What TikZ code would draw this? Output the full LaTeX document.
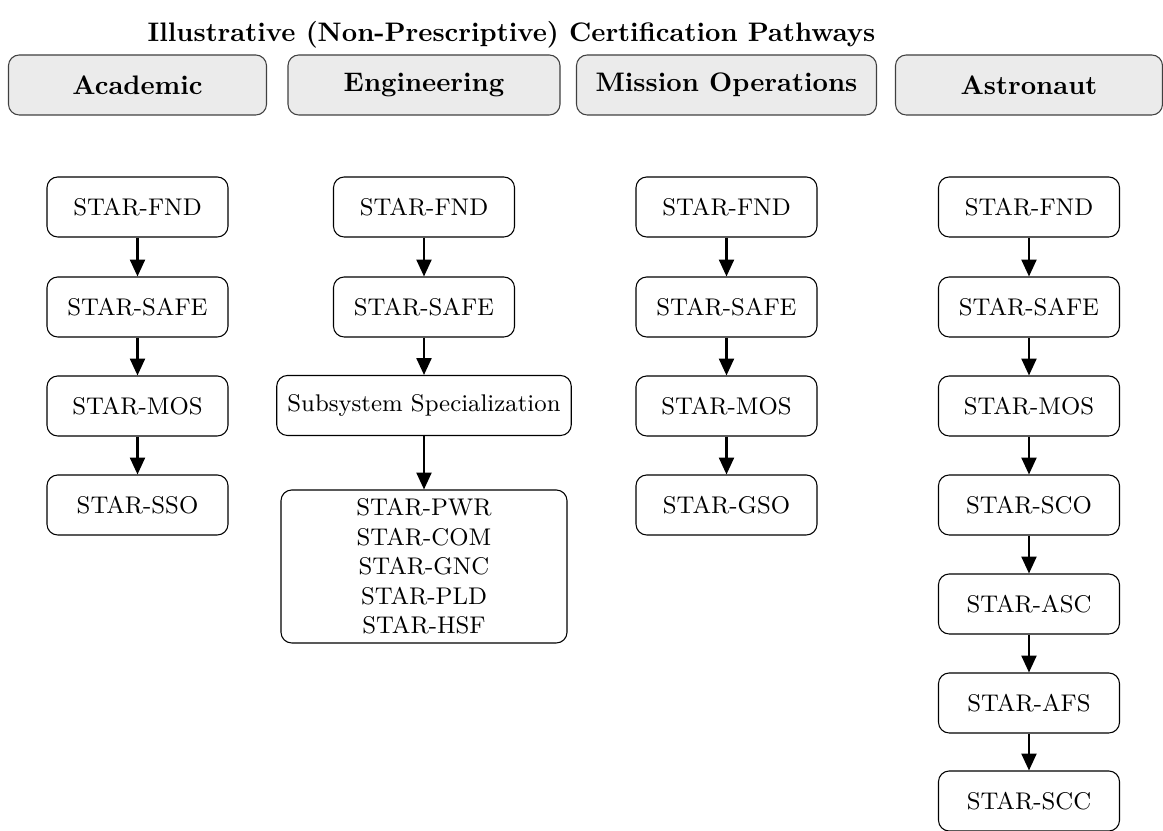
\documentclass[tikz,border=0pt]{standalone}
\usetikzlibrary{arrows.meta}
\begin{document}
\begin{tikzpicture}[x=0.3731pt, y=-0.3731pt,
  pbox/.style={draw, rounded corners=4pt, minimum width={181*0.3731pt}, minimum height={60*0.3731pt}, font=\small, inner xsep=4pt, inner ysep=3pt, align=center},
  hbox/.style={draw=black!75, fill=black!8, rounded corners=4pt, minimum height={60*0.3731pt}, font=\bfseries, inner sep=3pt},
  arr/.style={-{Triangle[length=6.3pt,width=5.6pt]}, thick}]
\useasboundingbox (0,0) rectangle (1163,831);
% title
\node[font=\bfseries] (title) at (511.5,35) {Illustrative (Non-Prescriptive) Certification Pathways};
% headers
\node[hbox, minimum width={258*0.3731pt}] (hA) at (137.5,85) {Academic};
\node[hbox, minimum width={272*0.3731pt}] (hE) at (424,85) {Engineering};
\node[hbox, minimum width={300*0.3731pt}] (hM) at (726.5,85) {Mission Operations};
\node[hbox, minimum width={267*0.3731pt}] (hS) at (1029,85) {Astronaut};
% Academic
\node[pbox] (a1) at (137.5,207) {STAR-FND};
\node[pbox] (a2) at (137.5,307) {STAR-SAFE};
\node[pbox] (a3) at (137.5,406) {STAR-MOS};
\node[pbox] (a4) at (137.5,505) {STAR-SSO};
% Engineering
\node[pbox] (e1) at (424,207) {STAR-FND};
\node[pbox] (e2) at (424,307) {STAR-SAFE};
\node[pbox] (e3) at (424,405.5) {Subsystem Specialization};
\node[pbox, minimum width={286*0.3731pt}, minimum height={153*0.3731pt}] (e4) at (424,566.5) {STAR-PWR\\STAR-COM\\STAR-GNC\\STAR-PLD\\STAR-HSF};
% Mission Operations
\node[pbox] (m1) at (726.5,207) {STAR-FND};
\node[pbox] (m2) at (726.5,307) {STAR-SAFE};
\node[pbox] (m3) at (726.5,406) {STAR-MOS};
\node[pbox] (m4) at (726.5,505) {STAR-GSO};
% Astronaut
\node[pbox] (s1) at (1029,207) {STAR-FND};
\node[pbox] (s2) at (1029,307) {STAR-SAFE};
\node[pbox] (s3) at (1029,406) {STAR-MOS};
\node[pbox] (s4) at (1029,505) {STAR-SCO};
\node[pbox] (s5) at (1029,604) {STAR-ASC};
\node[pbox] (s6) at (1029,703) {STAR-AFS};
\node[pbox] (s7) at (1029,801) {STAR-SCC};
% arrows
\foreach \u/\v in {a1/a2,a2/a3,a3/a4,e1/e2,e2/e3,e3/e4,m1/m2,m2/m3,m3/m4,s1/s2,s2/s3,s3/s4,s4/s5,s5/s6,s6/s7}
  \draw[arr] (\u) -- (\v);
\end{tikzpicture}
\end{document}
